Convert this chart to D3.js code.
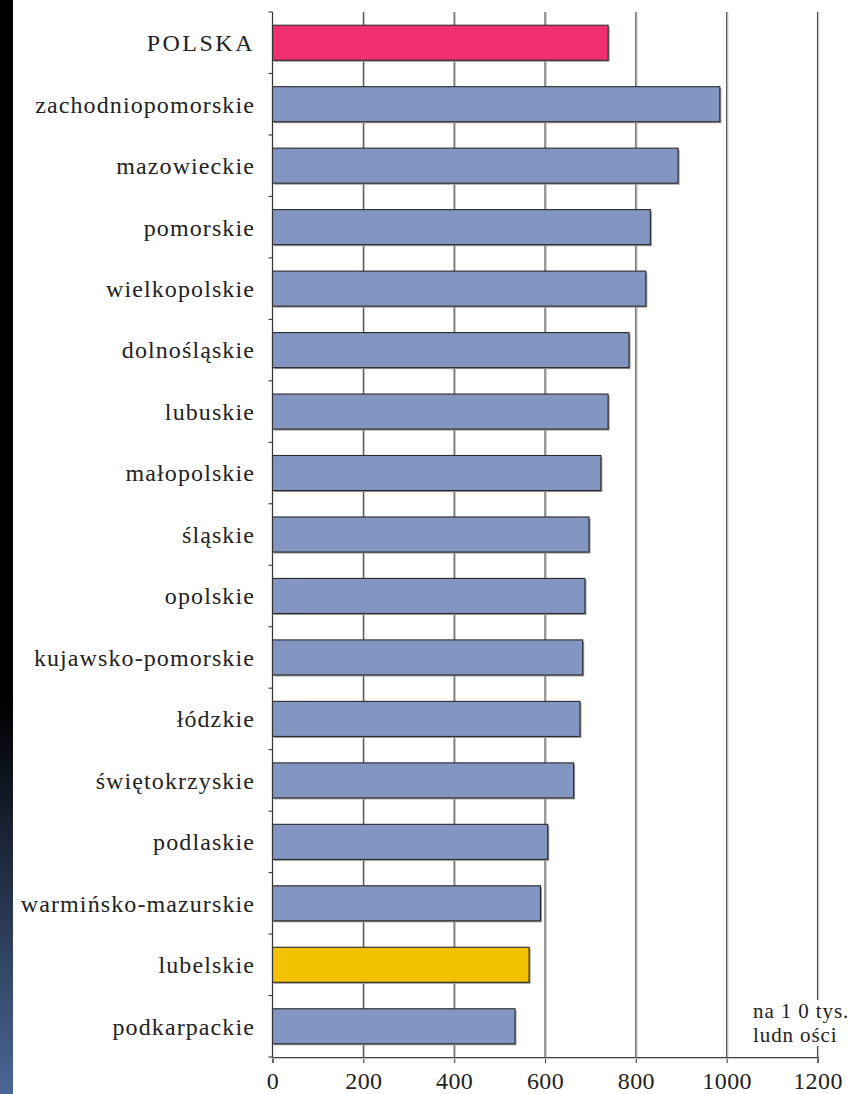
<!DOCTYPE html>
<html>
<head>
<meta charset="utf-8">
<script src="https://cdn.jsdelivr.net/npm/d3@7"></script>
<style>
  html, body { margin: 0; padding: 0; background: #fff; }
  svg { display: block; }
</style>
</head>
<body>
<div id="chart"></div>
<script>
// ---- data ----
const categories = [
  "POLSKA", "zachodniopomorskie", "mazowieckie", "pomorskie", "wielkopolskie",
  "dolnośląskie", "lubuskie", "małopolskie", "śląskie", "opolskie",
  "kujawsko-pomorskie", "łódzkie", "świętokrzyskie", "podlaskie",
  "warmińsko-mazurskie", "lubelskie", "podkarpackie"
];
const values = [739, 985, 893, 832, 822, 785, 739, 723, 697, 688, 683, 677, 663, 606, 590, 565, 534];
const highlight = { "POLSKA": "#ef2f71", "lubelskie": "#f2c200" };
const xTicks = [0, 200, 400, 600, 800, 1000, 1200];
const unitLines = ["na 1 0 tys.", "ludn ości"];

const SERIF = "'Liberation Serif', 'Times New Roman', Tinos, 'DejaVu Serif', serif";

// ---- layout ----
const W = 856, H = 1094;
const svg = d3.select("#chart").append("svg").attr("width", W).attr("height", H);

const defs = svg.append("defs");
const grad = defs.append("linearGradient").attr("id", "strip")
  .attr("x1", 0).attr("y1", 0).attr("x2", 0).attr("y2", 1);
grad.append("stop").attr("offset", "0%").attr("stop-color", "#000");
grad.append("stop").attr("offset", "64%").attr("stop-color", "#000");
grad.append("stop").attr("offset", "100%").attr("stop-color", "#4b6796");
svg.append("rect").attr("x", 0).attr("y", 0).attr("width", 13).attr("height", H).attr("fill", "url(#strip)");

const x = d3.scaleLinear().domain([0, 1200]).range([272.5, 817.5]);
const y = d3.scaleBand().domain(categories).range([12, 1057]).paddingInner(0.43).paddingOuter(0.215);

const plotTop = y.range()[0], plotBottom = y.range()[1];

// gridlines
const grid = svg.append("g");
xTicks.filter(t => t > 0).forEach(t => {
  grid.append("line").attr("x1", x(t) + 1.2).attr("x2", x(t) + 1.2)
    .attr("y1", plotTop).attr("y2", plotBottom).attr("stroke", "#c4c4c4").attr("stroke-width", 1);
  grid.append("line").attr("x1", x(t)).attr("x2", x(t))
    .attr("y1", plotTop).attr("y2", plotBottom).attr("stroke", "#4a4a4a").attr("stroke-width", 1.1);
});

// bars
const bars = svg.append("g");
categories.forEach((c, i) => {
  const v = values[i];
  bars.append("rect")
    .attr("x", x(0) + 1.5).attr("y", y(c) + 1.5)
    .attr("width", x(v) - x(0)).attr("height", y.bandwidth())
    .attr("fill", "#9a9a9a");
  bars.append("rect")
    .attr("x", x(0)).attr("y", y(c))
    .attr("width", x(v) - x(0)).attr("height", y.bandwidth())
    .attr("fill", highlight[c] || "#8396c2")
    .attr("stroke", "#2a2a2a").attr("stroke-width", 1.1);
});

// y axis (left) with ticks at band boundaries
const step = y.step();
const yAxis = svg.append("g");
yAxis.append("line").attr("x1", x(0)).attr("x2", x(0)).attr("y1", plotTop).attr("y2", plotBottom)
  .attr("stroke", "#333").attr("stroke-width", 1.2);
d3.range(categories.length + 1).forEach(i => {
  const yy = plotTop + i * step;
  yAxis.append("line").attr("x1", x(0) - 4).attr("x2", x(0)).attr("y1", yy).attr("y2", yy)
    .attr("stroke", "#333").attr("stroke-width", 1.1);
});
yAxis.selectAll("text.cat").data(categories).enter().append("text")
  .attr("class", "cat")
  .attr("x", 255).attr("y", d => y(d) + y.bandwidth() / 2)
  .attr("dy", "0.35em")
  .attr("text-anchor", "end")
  .attr("font-family", SERIF)
  .attr("font-size", 24)
  .attr("fill", "#222")
  .attr("letter-spacing", d => d === d.toUpperCase() ? 2.5 : 1.1)
  .text(d => d);

// x axis
const xAxis = d3.axisBottom(x).tickValues(xTicks).tickSize(6).tickPadding(6).tickFormat(d3.format("d"));
const gx = svg.append("g").attr("transform", `translate(0,${plotBottom})`).call(xAxis);
gx.attr("font-family", SERIF);
gx.select(".domain").attr("stroke", "#444").attr("stroke-width", 1.2);
gx.selectAll(".tick line").attr("stroke", "#444").attr("stroke-width", 1.1);
gx.selectAll(".tick text").attr("font-family", SERIF).attr("font-size", 24)
  .attr("letter-spacing", 0.4)
  .attr("fill", "#222").attr("y", 32).attr("dy", 0);
svg.append("line").attr("x1", x(0)).attr("x2", x(1200)).attr("y1", plotBottom + 1.5).attr("y2", plotBottom + 1.5)
  .attr("stroke", "#c4c4c4").attr("stroke-width", 1);

// unit label with white background
const unitG = svg.append("g");
unitG.append("rect").attr("x", 750).attr("y", 1000).attr("width", 106).attr("height", 46).attr("fill", "#fff");
unitLines.forEach((t, i) => {
  unitG.append("text").attr("x", 753).attr("y", 1018 + i * 24)
    .attr("font-family", SERIF).attr("fill", "#222")
    .attr("letter-spacing", 0.9)
    .attr("font-size", 21).text(t);
});
</script>
</body>
</html>
